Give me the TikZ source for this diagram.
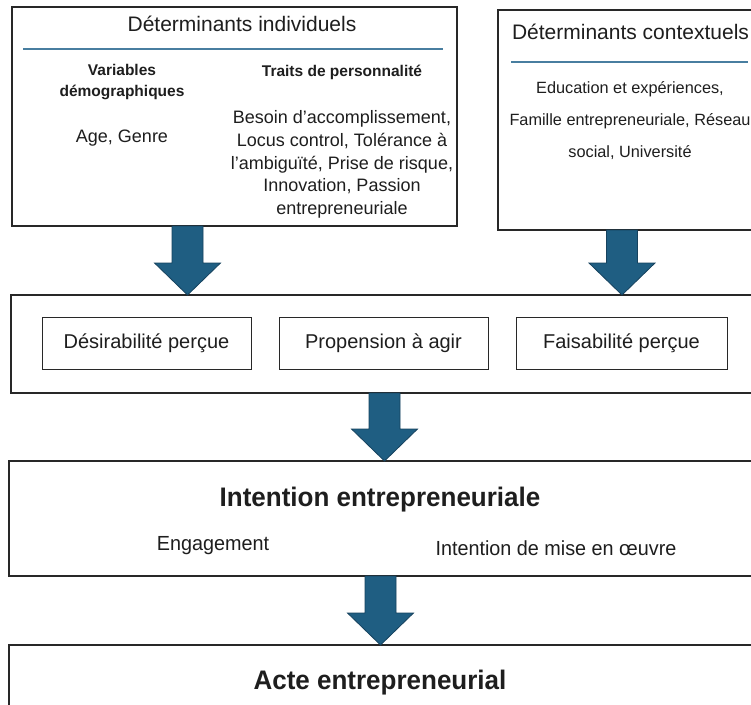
\documentclass[tikz,border=0pt]{standalone}
\usepackage{fontspec}
\setmainfont{Liberation Sans}
\newfontfamily\narrowfont[FakeStretch=0.97]{Liberation Sans}
\usetikzlibrary{calc}
\definecolor{arrowblue}{RGB}{31,94,130}
\definecolor{arrowedge}{RGB}{22,66,94}
\definecolor{rulecol}{RGB}{72,126,160}
\definecolor{boxline}{RGB}{40,40,40}
\definecolor{txtcol}{RGB}{30,30,30}
% fat block arrow from #1 (shaft top) to #2 (tip)
\newcommand{\bigarrow}[2]{%
  \draw[fatarrow] ($(#1)+(-15.5,0)$) -- ($(#2)+(-15.5,-32)$) -- ($(#2)+(-33,-32)$) -- (#2)
    -- ($(#2)+(33,-32)$) -- ($(#2)+(15.5,-32)$) -- ($(#1)+(15.5,0)$) -- cycle;}
\begin{document}
\begin{tikzpicture}[x=1pt,y=-1pt,text=txtcol,
  outerbox/.style={draw=boxline,line width=1.4pt,inner sep=0pt,outer sep=0pt},
  innerbox/.style={draw=boxline,line width=0.9pt,inner sep=0pt,outer sep=0pt,
    minimum height=52pt,font=\fontsize{20}{24}\selectfont},
  fatarrow/.style={fill=arrowblue,draw=arrowedge,line width=0.8pt,line join=miter},
  rule/.style={draw=rulecol,line width=1.5pt},
  head/.style={font=\fontsize{21}{25}\selectfont},
  sub/.style={font=\bfseries\fontsize{15.5}{21}\selectfont,align=center},
  body/.style={font=\fontsize{18}{22.8}\selectfont,align=center},
  ctxbody/.style={font=\fontsize{16.3}{32}\selectfont,align=center},
  bigtitle/.style={font=\narrowfont\bfseries\fontsize{26.8}{32}\selectfont},
  smalltxt/.style={font=\narrowfont\fontsize{20.4}{26}\selectfont}]
\useasboundingbox (0,0) rectangle (751,704);
\clip (0,0) rectangle (751,704);
\fill[white] (0,0) rectangle (751,704);

% top boxes
\node[outerbox,minimum width=445pt,minimum height=219pt] (indiv) at (234.5,116.5) {};
\node[outerbox,minimum width=272pt,minimum height=220pt] (context) at (634,120) {};
\node[head] (indivtitle) at (242,24) {Déterminants individuels};
\draw[rule] (23,49) -- (443,49);
\node[sub] (vardemo) at (122,82.5) {Variables\\démographiques};
\node[body] (agegenre) at (122,138) {Age, Genre};
\node[sub] (traits) at (342,72) {Traits de personnalité};
\node[body] (traitlist) at (342,164.5) {Besoin d’accomplissement,\\Locus control, Tolérance à\\l’ambiguïté, Prise de risque,\\Innovation, Passion\\entrepreneuriale};
\node[head] (ctxtitle) at (630.5,32) {Déterminants contextuels};
\draw[rule] (511,62) -- (748,62);
\node[ctxbody] (ctxlist) at (630,121) {Education et expériences,\\Famille entrepreneuriale, Réseau\\social, Université};

% perception box
\node[outerbox,minimum width=759pt,minimum height=98pt] (prop) at (390.5,344) {};
\node[innerbox,minimum width=209pt] (desir) at (146.5,343) {Désirabilité perçue};
\node[innerbox,minimum width=209pt] (propag) at (383.5,343) {Propension à agir};
\node[innerbox,minimum width=211pt] (faisab) at (621.5,343) {Faisabilité perçue};

% intention and act
\node[outerbox,minimum width=761pt,minimum height=115pt] (intent) at (389.5,518.5) {};
\node[bigtitle] (intenttitle) at (380,500) {Intention entrepreneuriale};
\node[smalltxt] (engag) at (213,546) {Engagement};
\node[smalltxt] (miseoeuvre) at (556,548) {Intention de mise en œuvre};
\node[outerbox,minimum width=761pt,minimum height=75pt] (acte) at (389.5,682.5) {};
\node[bigtitle] (actetitle) at (380,683) {Acte entrepreneurial};

% arrows
\coordinate (x1) at (187.5,0);
\coordinate (x2) at (622,0);
\coordinate (x3) at (384.5,0);
\coordinate (x4) at (380.5,0);
\bigarrow{indiv.south -| x1}{prop.north -| x1}
\bigarrow{context.south -| x2}{prop.north -| x2}
\bigarrow{prop.south -| x3}{intent.north -| x3}
\bigarrow{intent.south -| x4}{acte.north -| x4}
\end{tikzpicture}
\end{document}
